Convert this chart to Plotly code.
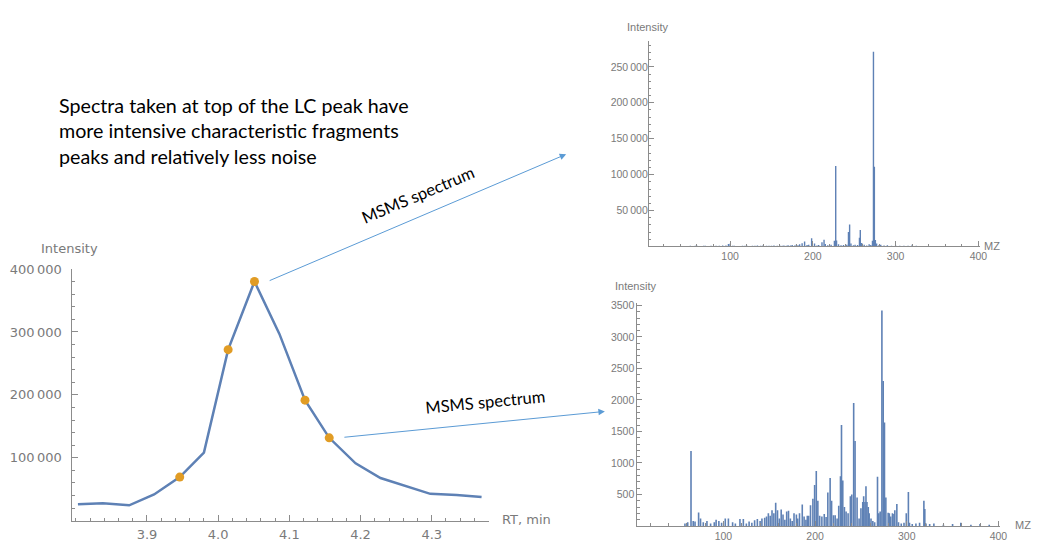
import plotly.graph_objects as go

W, H = 1041, 542

# ---------------- data ----------------
rt = [3.803, 3.838, 3.875, 3.910, 3.946, 3.980, 4.014, 4.051, 4.086, 4.122,
      4.156, 4.193, 4.228, 4.263, 4.298, 4.335, 4.370]
lc_int = [25900, 27500, 24400, 41600, 69200, 108300, 271900, 380200, 296900,
          191600, 131700, 91100, 67700, 55000, 42600, 40600, 37500]
sel_rt = [3.946, 4.014, 4.051, 4.122, 4.156]
sel_int = [69200, 271900, 380200, 191600, 131700]

top_mz = [52, 55, 58, 60, 63, 65, 68, 70, 74, 77, 80, 83, 87, 91, 95, 98, 100,
          103, 105, 110, 115, 118, 120, 124, 127, 130, 133, 137, 140, 144, 147,
          150, 153, 157, 160, 163, 165, 168, 170, 173, 175, 178, 180, 182, 184,
          187, 190, 193, 195, 198.5, 202, 205, 207, 211, 213.5, 215, 218, 222,
          226, 227.6, 228.6, 231, 234, 237, 241, 243, 244.4, 246, 249, 251,
          254, 256.3, 257.3, 259, 262, 265, 268, 270, 272, 273.2, 274.3, 275.5,
          277, 280, 282, 286, 290, 295, 300, 305, 310, 315, 320, 325, 330]
top_int = [900, 700, 1000, 1200, 700, 800, 900, 1000, 800, 900, 700, 1100, 900,
           1300, 1500, 3500, 3800, 900, 1000, 800, 1200, 900, 1400, 800, 1100,
           900, 1300, 1000, 1600, 900, 1200, 1000, 1400, 1100, 1300, 1000, 1500,
           1200, 1800, 1300, 2000, 1500, 2500, 1800, 3000, 4500, 7000, 2000,
           2500, 11500, 4000, 1500, 2000, 6000, 9500, 3500, 1800, 2500, 8000,
           112000, 8500, 3000, 1800, 2000, 2500, 20000, 30500, 4000, 1800, 2500,
           2000, 12000, 23000, 5000, 2500, 1500, 3000, 2000, 8000, 271000,
           111000, 9000, 4000, 2000, 2500, 1500, 1800, 1200, 1500, 1000, 1200,
           900, 2500, 900, 800]

bot_mz = [58, 61, 64.6, 67, 69, 72.9, 75, 78, 82, 86, 90, 92, 95, 98, 102,
          105.4, 110, 113, 118, 121.7, 125, 128, 131, 134, 137, 140, 142, 145,
          147, 149, 151, 153, 155, 157, 159, 161, 163, 165, 167, 169, 171,
          173, 175, 177, 179.6, 181, 183, 186, 188, 190, 191.5, 193, 195,
          197.6, 199.5, 201.3, 203, 205, 207.4, 210, 212, 213.9, 216.4, 218,
          220, 221.9, 224, 225.8, 227.7, 228.8, 230.2, 232, 233.8, 236, 238.5,
          240, 242.1, 243.6, 245.8, 248, 250, 252, 253, 254.4, 255.5, 256.6,
          258, 259, 261, 263, 265, 268.1, 269.5, 271, 272.9, 274.3, 275.7,
          277.2, 279.7, 281, 282.5, 284.4, 286, 287, 289.2, 291, 294, 297,
          299.5, 301.8, 303, 306, 310, 314, 318.7, 319.7, 321, 325, 329.6,
          340, 350, 359, 370, 380, 390]
bot_int = [40, 60, 1190, 80, 70, 215, 120, 60, 80, 40, 60, 100, 80, 50, 120,
           120, 60, 40, 110, 110, 40, 70, 50, 90, 110, 80, 120, 130, 150, 200,
           160, 250, 200, 370, 250, 120, 260, 180, 100, 230, 240, 120, 80, 200,
           180, 120, 200, 340, 150, 100, 160, 160, 330, 430, 650, 870, 400,
           160, 150, 190, 140, 530, 760, 400, 170, 170, 120, 320, 790, 1600,
           720, 300, 230, 200, 470, 500, 1950, 1350, 450, 120, 280, 380, 470,
           380, 630, 380, 300, 200, 120, 80, 60, 780, 200, 230, 3420, 2300,
           1640, 450, 210, 200, 150, 200, 190, 250, 350, 60, 40, 50, 200, 540,
           50, 30, 40, 50, 400, 270, 40, 30, 40, 20, 30, 50, 20, 30, 20]

lc_xticks = [3.9, 4.0, 4.1, 4.2, 4.3]
lc_yticks = [100000, 200000, 300000, 400000]
top_yticks = [50000, 100000, 150000, 200000, 250000]
bot_yticks = [500, 1000, 1500, 2000, 2500, 3000, 3500]
mz_ticks = [100, 200, 300, 400]

BLUE = "#5E81B5"
ORANGE = "#E19C24"
AXC = "#8c8c8c"
TXC = "#7a7a7a"
ARROW = "#5B9BD5"


def sticks(mz, inten):
    xs, ys = [], []
    for m, v in zip(mz, inten):
        xs += [m, m, None]
        ys += [0, v, None]
    return xs, ys


def grp(v):
    return f"{v:,}".replace(",", "\u2009")


def X(px):
    return px / W


def Y(py):
    return 1 - py / H


fig = go.Figure()

fig.add_trace(go.Scatter(x=rt, y=lc_int, mode="lines",
                         line=dict(color=BLUE, width=2.5),
                         xaxis="x", yaxis="y", hoverinfo="skip"))
fig.add_trace(go.Scatter(x=sel_rt, y=sel_int, mode="markers",
                         marker=dict(color=ORANGE, size=9),
                         xaxis="x", yaxis="y", hoverinfo="skip"))

tx, ty = sticks(top_mz, top_int)
fig.add_trace(go.Scatter(x=tx, y=ty, mode="lines",
                         line=dict(color=BLUE, width=1.4),
                         xaxis="x2", yaxis="y2", hoverinfo="skip"))
bx, by = sticks(bot_mz, bot_int)
fig.add_trace(go.Scatter(x=bx, y=by, mode="lines",
                         line=dict(color=BLUE, width=1.6),
                         xaxis="x3", yaxis="y3", hoverinfo="skip"))


def axis(**kw):
    d = dict(showline=True, linecolor=AXC, linewidth=1, ticks="inside",
             tickcolor=AXC, showgrid=False, zeroline=False, fixedrange=True)
    d.update(kw)
    return d


big = dict(family="DejaVu Sans", size=13, color=TXC)
small = dict(family="Liberation Sans", size=10.5, color=TXC)

fig.update_layout(
    width=W, height=H, margin=dict(l=0, r=0, t=0, b=0),
    paper_bgcolor="white", plot_bgcolor="white", showlegend=False,
    xaxis=axis(domain=[X(72), X(492)], range=[3.794, 4.38], anchor="y",
               tickvals=lc_xticks, ticktext=[f"{v:.1f}" for v in lc_xticks],
               ticklen=6, tickfont=big, ticklabelstandoff=2,
               minor=dict(ticks="inside", ticklen=3, tickcolor=AXC,
                          tick0=3.8, dtick=0.02, showgrid=False)),
    yaxis=axis(domain=[Y(523.3), Y(267)], range=[0, 400000], anchor="x",
               tickvals=lc_yticks, ticktext=[grp(v) for v in lc_yticks],
               ticklen=6, tickfont=big, ticklabelstandoff=6,
               minor=dict(ticks="inside", ticklen=3, tickcolor=AXC,
                          tick0=0, dtick=20000, showgrid=False)),
    xaxis2=axis(domain=[X(653.3), X(986.7)], range=[1.9, 402], anchor="y2",
                tickvals=mz_ticks, ticklen=5, tickfont=small,
                minor=dict(ticks="inside", ticklen=2.5, tickcolor=AXC,
                           tick0=0, dtick=20, showgrid=False)),
    yaxis2=axis(domain=[Y(244), Y(35)], range=[0, 285500], anchor="x2",
                tickvals=top_yticks, ticktext=[grp(v) for v in top_yticks],
                ticklen=5, tickfont=small, ticklabelstandoff=-2,
                minor=dict(ticks="inside", ticklen=2.5, tickcolor=AXC,
                           tick0=0, dtick=10000, showgrid=False)),
    xaxis3=axis(domain=[X(641.7), X(1007)], range=[6.1, 402], anchor="y3",
                tickvals=mz_ticks, ticklen=5, tickfont=small,
                minor=dict(ticks="inside", ticklen=2.5, tickcolor=AXC,
                           tick0=0, dtick=20, showgrid=False)),
    yaxis3=axis(domain=[Y(528.7), Y(301.7)], range=[0, 3536], anchor="x3",
                tickvals=bot_yticks, ticklen=5, tickfont=small,
                minor=dict(ticks="inside", ticklen=2.5, tickcolor=AXC,
                           tick0=0, dtick=100, showgrid=False)),
)

ann = []


def label(text, px, py, font, angle=0, xanchor="center"):
    ann.append(dict(text=text, x=X(px), y=Y(py), xref="paper", yref="paper",
                    showarrow=False, xanchor=xanchor, yanchor="middle",
                    textangle=angle, font=font))


lab_big = dict(family="DejaVu Sans", size=13, color=TXC)
lab_small = dict(family="Liberation Sans", size=11, color=TXC)
label("Intensity", 70, 246, lab_big)
label("RT, min", 503, 522, lab_big, xanchor="left")
label("Intensity", 652, 20, lab_small)
label("MZ", 999, 244, lab_small)
label("Intensity", 640, 284, lab_small)
label("MZ", 1030, 528, lab_small)

main_font = dict(family="Lato", size=19.7, color="black")
label("Spectra taken at top of the LC peak have", 57, 100, main_font, xanchor="left")
label("more intensive characteristic fragments", 57, 126, main_font, xanchor="left")
label("peaks and relatively less noise", 57, 152, main_font, xanchor="left")

ms_font = dict(family="Lato", size=16.5, color="black")
label("MSMS spectrum", 421, 192, ms_font, angle=-23)
label("MSMS spectrum", 488, 402, ms_font, angle=-5.5)

# arrows (head position, tail position in px)
for hx, hy, tx_, ty_ in [(570, 150, 272, 277), (609, 412, 347, 438)]:
    ann.append(dict(text="", x=X(hx), y=Y(hy), xref="paper", yref="paper",
                    ax=tx_ - hx, ay=ty_ - hy, showarrow=True, arrowhead=2,
                    arrowsize=1.3, arrowwidth=1, arrowcolor=ARROW,
                    standoff=0, startstandoff=0))

fig.update_layout(annotations=ann)
fig.write_html("out.html")
